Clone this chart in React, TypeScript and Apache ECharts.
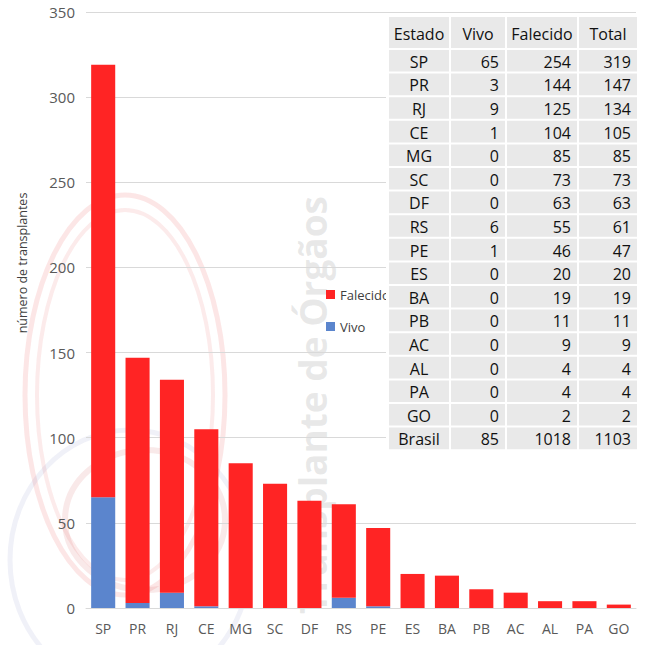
import React, { useEffect, useRef } from "react";
import * as echarts from "echarts";

const estados = ["SP", "PR", "RJ", "CE", "MG", "SC", "DF", "RS", "PE", "ES", "BA", "PB", "AC", "AL", "PA", "GO"];
const vivo = [65, 3, 9, 1, 0, 0, 0, 6, 1, 0, 0, 0, 0, 0, 0, 0];
const falecido = [254, 144, 125, 104, 85, 73, 63, 55, 46, 20, 19, 11, 9, 4, 4, 2];
const yTicks = { min: 0, max: 350, interval: 50 };
const tableHeader = ["Estado", "Vivo", "Falecido", "Total"];
const totalLabel = "Brasil";

const FONT = "'Open Sans', 'Noto Sans', sans-serif";
const RED = "#ff2424";
const BLUE = "#5b85cd";

function buildTable(): any[] {
  const cols = [
    [389, 449],
    [451, 505],
    [507, 577],
    [579, 637],
  ];
  const headerTop = 17;
  const headerH = 31;
  const rowH = 23.6;
  const sumV = vivo.reduce((a, b) => a + b, 0);
  const sumF = falecido.reduce((a, b) => a + b, 0);
  const rows: (string | number)[][] = estados.map((e, i) => [e, vivo[i], falecido[i], vivo[i] + falecido[i]]);
  rows.push([totalLabel, sumV, sumF, sumV + sumF]);
  const els: any[] = [];
  const bottom = headerTop + headerH + 1 + rows.length * rowH;
  els.push({ type: "rect", shape: { x: 386, y: 14, width: 254, height: bottom - 12 }, style: { fill: "#ffffff" }, z: 10 });
  cols.forEach((c, j) => {
    els.push({
      type: "rect",
      shape: { x: c[0], y: headerTop, width: c[1] - c[0], height: headerH },
      style: { fill: "#e9e9e9" },
      z: 11,
    });
    els.push({
      type: "text",
      x: (c[0] + c[1]) / 2,
      y: headerTop + headerH / 2 + 1,
      style: { text: tableHeader[j], fill: "#111111", font: `16px ${FONT}`, align: "center", verticalAlign: "middle" },
      z: 12,
    });
  });
  rows.forEach((r, i) => {
    const y0 = headerTop + headerH + 2 + i * rowH;
    cols.forEach((c, j) => {
      els.push({
        type: "rect",
        shape: { x: c[0], y: y0, width: c[1] - c[0], height: rowH - 2 },
        style: { fill: "#e9e9e9" },
        z: 11,
      });
      const isLabel = j === 0;
      els.push({
        type: "text",
        x: isLabel ? (c[0] + c[1]) / 2 : c[1] - 6,
        y: y0 + (rowH - 2) / 2 + 1,
        style: {
          text: String(r[j]),
          fill: "#111111",
          font: `16px ${FONT}`,
          align: isLabel ? "center" : "right",
          verticalAlign: "middle",
        },
        z: 12,
      });
    });
  });
  return els;
}

function buildWatermark(): any[] {
  return [
    { type: "ellipse", shape: { cx: 125, cy: 395, rx: 100, ry: 200 }, style: { fill: "none", stroke: "rgba(230,60,60,0.13)", lineWidth: 5 }, z: -1, silent: true },
    { type: "ellipse", shape: { cx: 125, cy: 395, rx: 88, ry: 185 }, style: { fill: "none", stroke: "rgba(230,60,60,0.10)", lineWidth: 4 }, z: -1, silent: true },
    { type: "ellipse", shape: { cx: 145, cy: 520, rx: 80, ry: 70 }, style: { fill: "none", stroke: "rgba(200,40,40,0.10)", lineWidth: 6 }, z: -1, silent: true },
    { type: "ellipse", shape: { cx: 130, cy: 560, rx: 120, ry: 130 }, style: { fill: "none", stroke: "rgba(70,80,160,0.08)", lineWidth: 5 }, z: -1, silent: true },
    {
      type: "text",
      x: 312,
      y: 405,
      rotation: Math.PI / 2,
      style: {
        text: "Transplante de Órgãos",
        fill: "rgba(150,150,150,0.22)",
        font: `bold 37px ${FONT}`,
        align: "center",
        verticalAlign: "middle",
      },
      z: -1,
      silent: true,
    },
  ];
}

export default function App() {
  const ref = useRef<HTMLDivElement>(null);
  useEffect(() => {
    if (!ref.current) return;
    const chart = echarts.init(ref.current, null, { renderer: "svg" });
    chart.setOption({
      animation: false,
      backgroundColor: "#ffffff",
      textStyle: { fontFamily: FONT },
      grid: { left: 86, right: 12, top: 12, bottom: 37 },
      legend: {
        data: ["Falecido", "Vivo"],
        orient: "vertical",
        left: 321,
        top: 283,
        icon: "rect",
        itemWidth: 9,
        itemHeight: 9,
        itemGap: 19,
        textStyle: { color: "#404040", fontSize: 13, fontFamily: FONT },
      },
      xAxis: {
        type: "category",
        data: estados,
        axisLine: { lineStyle: { color: "#d9d9d9", width: 1 } },
        axisTick: { show: false },
        axisLabel: { color: "#595959", fontSize: 14, margin: 13 },
      },
      yAxis: {
        type: "value",
        min: yTicks.min,
        max: yTicks.max,
        interval: yTicks.interval,
        axisLine: { show: false },
        axisTick: { show: false },
        axisLabel: { color: "#595959", fontSize: 15, margin: 11 },
        splitLine: { lineStyle: { color: "#d9d9d9", width: 1 } },
      },
      series: [
        {
          name: "Vivo",
          type: "bar",
          stack: "t",
          data: vivo,
          barCategoryGap: "30%",
          itemStyle: { color: BLUE },
        },
        {
          name: "Falecido",
          type: "bar",
          stack: "t",
          data: falecido,
          barCategoryGap: "30%",
          itemStyle: { color: RED },
        },
      ],
      graphic: [
        ...buildWatermark(),
        {
          type: "text",
          x: 22,
          y: 263,
          rotation: Math.PI / 2,
          style: {
            text: "número de transplantes",
            fill: "#404040",
            font: `12.5px ${FONT}`,
            align: "center",
            verticalAlign: "middle",
          },
          z: 5,
        },
        ...buildTable(),
      ],
    });
    return () => chart.dispose();
  }, []);
  return <div ref={ref} style={{ width: 648, height: 645, position: "absolute", left: 0, top: 0 }} />;
}
